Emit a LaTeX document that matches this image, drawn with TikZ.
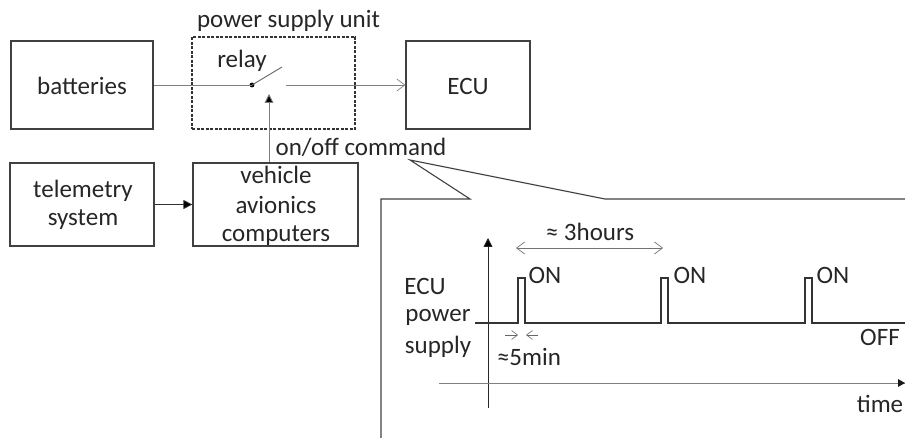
\documentclass[tikz,border=0pt]{standalone}
\usepackage{fontspec}
\setmainfont{Carlito}
\usetikzlibrary{arrows.meta}
\tikzset{
 box/.style={draw=black!75,line width=1.2pt},
 lbl/.style={text=black!85,font=\fontsize{25}{25}\selectfont,inner sep=0pt,anchor=center},
 thin line/.style={draw=black!50,line width=0.9pt},
 open/.style={-{Straight Barb[length=8pt,width=12pt,line width=0.7pt]}},
 solid tip/.style={-{Triangle[length=9pt,width=9pt,fill=black]}},
}
\begin{document}
\begin{tikzpicture}[x=1pt,y=-1pt]
\useasboundingbox (0,0) rectangle (905,438);
% boxes
\node[box,minimum width=142pt,minimum height=88pt,inner sep=0pt] (bat) at (82,85) {};
\node[lbl] at (82,86) {batteries};
\node[box,minimum width=124pt,minimum height=88pt,inner sep=0pt] (ecu) at (468,85) {};
\node[lbl] at (468,86) {ECU};
\node[box,minimum width=144pt,minimum height=83pt,inner sep=0pt] (tel) at (82,204.5) {};
\node[lbl,align=center] at (83,191) {telemetry};
\node[lbl] at (83,220) {system};
\node[box,minimum width=165pt,minimum height=83pt,inner sep=0pt] (veh) at (275.5,204.5) {};
\node[lbl] at (276,175) {vehicle};
\node[lbl] at (276,205) {avionics};
\node[lbl] at (276,236) {computers};
\node[draw=black!80,dash pattern=on 3pt off 1.5pt,line width=1.1pt,minimum width=163pt,minimum height=92pt,inner sep=0pt] (psu) at (273.5,83) {};
\node[lbl] at (288.5,21) {power supply unit};
\node[lbl] at (242,61) {relay};
\node[lbl] at (361,147) {on/off command};
% relay
\coordinate (dot) at (252,85);
\coordinate (blade) at (282,67);
\coordinate (contact) at (286,85);
\coordinate (cmdtip) at (269,94);
\fill[black] (dot) circle (2.4pt);
\draw[thin line] (bat.east |- dot) -- (dot);
\draw[draw=black!60,line width=0.9pt] (dot) -- (blade);
\draw[thin line,open] (contact) -- (ecu.west |- contact);
\draw[thin line,solid tip] (veh.north -| cmdtip) -- (cmdtip);
\draw[draw=black!80,line width=0.8pt,solid tip] (tel.east) -- (veh.west);
% callout
\coordinate (c1) at (381,438);\coordinate (c2) at (381,199);\coordinate (c3) at (470,199);
\coordinate (c4) at (410,160);\coordinate (c5) at (605,199);\coordinate (c6) at (905,199);
\draw[draw=black!75,line width=1.1pt] (c1) -- (c2) -- (c3) -- (c4) -- (c5) -- (c6);
% axes
\coordinate (ya) at (488,408);\coordinate (yb) at (488,238);
\coordinate (xa) at (439,383);\coordinate (xb) at (905,383);
\draw[draw=black!85,line width=0.8pt,solid tip] (ya) -- (yb);
\draw[thin line] (xa) -- (xb);
\fill[black!90] (905,383) -- (898,379) -- (898,387) -- cycle;
% signal
\coordinate (s0) at (475,323);\coordinate (s1) at (905,323);
\draw[draw=black!80,line width=1.7pt] (s0) -- (518,323) |- (525,278) |- (661,323) |- (668,278) |- (805,323) |- (812,278) |- (s1);
% dims
\coordinate (h1) at (516,248);\coordinate (h2) at (663,248);
\draw[draw=black!55,line width=0.8pt,{Straight Barb[length=8pt,width=12pt,line width=0.7pt]}-{Straight Barb[length=8pt,width=12pt,line width=0.7pt]}] (h1) -- (h2);
\coordinate (m1) at (505,335);\coordinate (m2) at (518,335);\coordinate (m3) at (538,335);\coordinate (m4) at (526,335);
\draw[draw=black!60,line width=0.7pt,-{Straight Barb[length=6pt,width=9pt,line width=0.6pt]}] (m1) -- (m2);
\draw[draw=black!60,line width=0.7pt,-{Straight Barb[length=6pt,width=9pt,line width=0.6pt]}] (m3) -- (m4);
% labels
\node[lbl] at (590,232) {≈ 3hours};
\node[lbl] at (545,275) {ON};
\node[lbl] at (690,275) {ON};
\node[lbl] at (833,275) {ON};
\node[lbl] at (425,286) {ECU};
\node[lbl] at (438,317) {power};
\node[lbl] at (438,347) {supply};
\node[lbl] at (529,357) {≈5min};
\node[lbl] at (880,337) {OFF};
\node[lbl] at (880,404) {time};
\end{tikzpicture}
\end{document}
